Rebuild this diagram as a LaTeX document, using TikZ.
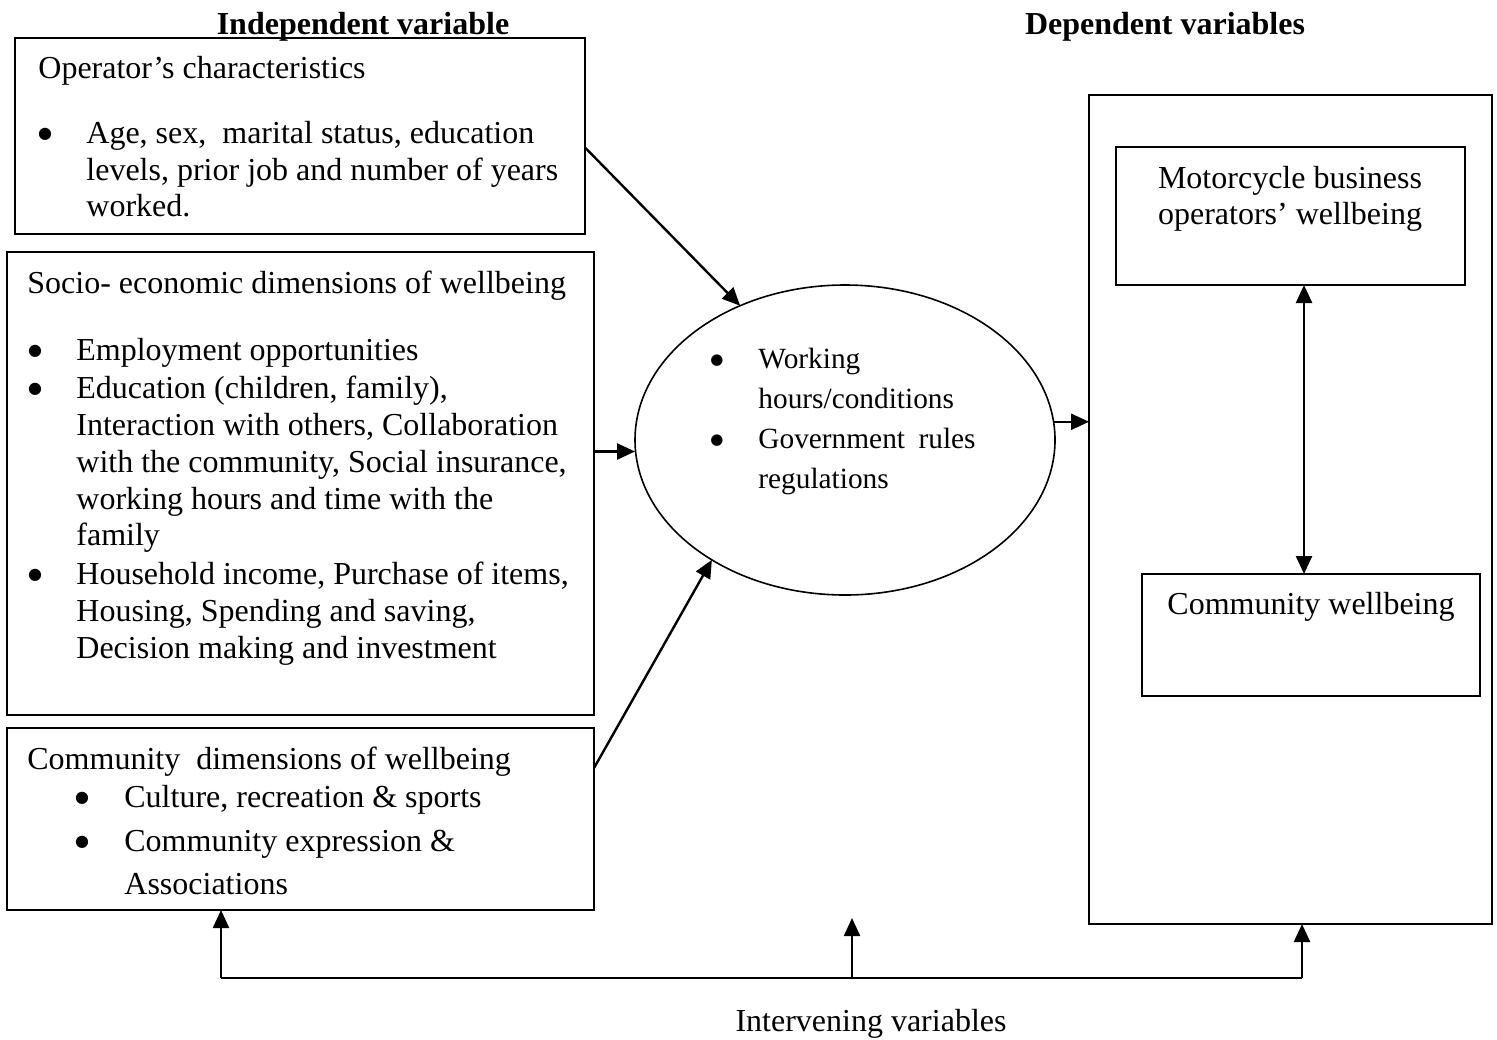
\documentclass[tikz,border=0pt]{standalone}
\usepackage{fontspec}
\setmainfont{Liberation Serif}
\newfontfamily\symf{DejaVu Sans}
\usetikzlibrary{arrows.meta,shapes.geometric,calc}
\newcommand{\fsmain}{\fontsize{16pt}{18.6pt}\selectfont}
\newcommand{\fsell}{\fontsize{14.67pt}{17pt}\selectfont}
\newcommand{\fsbul}{\symf\fontsize{8pt}{9pt}\selectfont}
\newcommand{\fsebul}{\symf\fontsize{7.5pt}{9pt}\selectfont}
\tikzset{
  box/.style={draw, line width=1pt, inner sep=0pt, outer sep=0pt, anchor=north west},
  txt/.style={anchor=base west, inner sep=0pt, font=\fsmain},
  etxt/.style={anchor=base west, inner sep=0pt, font=\fsell},
  bul/.style={anchor=base, inner sep=0pt, font=\fsbul, yshift=2.2pt},
  ebul/.style={anchor=base, inner sep=0pt, font=\fsebul, yshift=2pt},
  ctxt/.style={anchor=base, inner sep=0pt, font=\fsmain},
  arr/.style={line width=1.2pt, -{Triangle[length=9pt,width=8pt]}},
  darr/.style={line width=1.2pt, {Triangle[length=9pt,width=8pt]}-{Triangle[length=9pt,width=8pt]}},
  plain/.style={line width=1.2pt},
}
\begin{document}
\begin{tikzpicture}[x=0.5pt,y=-0.5pt]
\useasboundingbox (0,0) rectangle (1497,1039);

% titles
\node[ctxt, font=\fsmain\bfseries] (tind) at (363,34) {Independent variable};
\node[ctxt, font=\fsmain\bfseries] (tdep) at (1165,34) {Dependent variables};

% box 1
\node[box, minimum width=285pt, minimum height=98pt] (b1) at (15,38) {};
\node[txt] (b1h) at (38,78) {Operator’s characteristics};
\node[bul] (b1b) at (45,143) {●};
\node[txt] (b1l1) at (86,143) {Age, sex,\hspace{0.25em} marital status, education};
\node[txt] (b1l2) at (86,180) {levels, prior job and number of years};
\node[txt] (b1l3) at (86,216) {worked.};

% box 2
\node[box, minimum width=293.5pt, minimum height=231.5pt] (b2) at (7,252) {};
\node[txt] (b2h) at (27,293) {Socio- economic dimensions of wellbeing};
\node[bul] (b2b1) at (35,360) {●};
\node[txt] (b2l1) at (76,360) {Employment opportunities};
\node[bul] (b2b2) at (35,398) {●};
\node[txt] (b2l2) at (76,398) {Education (children, family),};
\node[txt] (b2l3) at (76,435) {Interaction with others, Collaboration};
\node[txt] (b2l4) at (76,472) {with the community, Social insurance,};
\node[txt] (b2l5) at (76,509) {working hours and time with the};
\node[txt] (b2l6) at (76,545) {family};
\node[bul] (b2b3) at (35,584) {●};
\node[txt] (b2l7) at (76,584) {Household income, Purchase of items,};
\node[txt] (b2l8) at (76,621) {Housing, Spending and saving,};
\node[txt] (b2l9) at (76,658) {Decision making and investment};

% box 3
\node[box, minimum width=293.5pt, minimum height=91pt] (b3) at (7,728) {};
\node[txt] (b3h) at (27,769) {Community\hspace{0.25em} dimensions of wellbeing};
\node[bul] (b3b1) at (82,807) {●};
\node[txt] (b3l1) at (124,807) {Culture, recreation \& sports};
\node[bul] (b3b2) at (82,851) {●};
\node[txt] (b3l2) at (124,851) {Community expression \&};
\node[txt] (b3l3) at (124,894) {Associations};

% ellipse
\node[draw, ellipse, line width=0.8pt, minimum width=210pt, minimum height=155pt, inner sep=0pt, outer sep=0pt] (ell) at (845,440) {};
\node[ebul] (eb1) at (717,368) {●};
\node[etxt] (el1) at (758,368) {Working};
\node[etxt] (el2) at (758,408) {hours/conditions};
\node[ebul] (eb2) at (717,448) {●};
\node[etxt] (el3) at (758,448) {Government\hspace{6.75pt}rules};
\node[etxt] (el4) at (758,488) {regulations};

% right side
\node[box, minimum width=201.5pt, minimum height=414.5pt] (out) at (1089,95) {};
\node[box, minimum width=174.5pt, minimum height=69pt] (in1) at (1116,147) {};
\node[ctxt] (in1a) at (1290,188) {Motorcycle business};
\node[ctxt] (in1b) at (1290,224) {operators’ wellbeing};
\node[box, minimum width=169pt, minimum height=61pt] (in2) at (1142,574) {};
\node[ctxt] (in2a) at (1311,614) {Community wellbeing};

% connectors
\coordinate (s1) at ([yshift=-5.75pt]b1.east);
\draw[arr] (s1) -- (ell.128);
\coordinate (s2) at ([yshift=16pt]b2.east);
\draw[arr] (s2) -- (s2 -| ell.west);
\coordinate (s3) at ([yshift=25.5pt]b3.east);
\draw[arr] (s3) -- (ell.222);
\draw[arr] (ell.5) -- (ell.5 -| out.west);
\coordinate (d1) at ([xshift=6.75pt]in1.south);
\draw[darr] (d1) -- (d1 |- in2.north);

% feedback
\coordinate (fl) at (221,978);
\coordinate (fm) at (852,978);
\coordinate (fr) at (1302,978);
\coordinate (fmt) at (852,918);
\draw[plain] (fl) -- (fr);
\draw[arr] (fl) -- (fl |- b3.south);
\draw[arr] (fm) -- (fmt);
\draw[arr] (fr) -- (fr |- out.south);
\node[ctxt] (tint) at (871,1031) {Intervening variables};
\end{tikzpicture}
\end{document}
